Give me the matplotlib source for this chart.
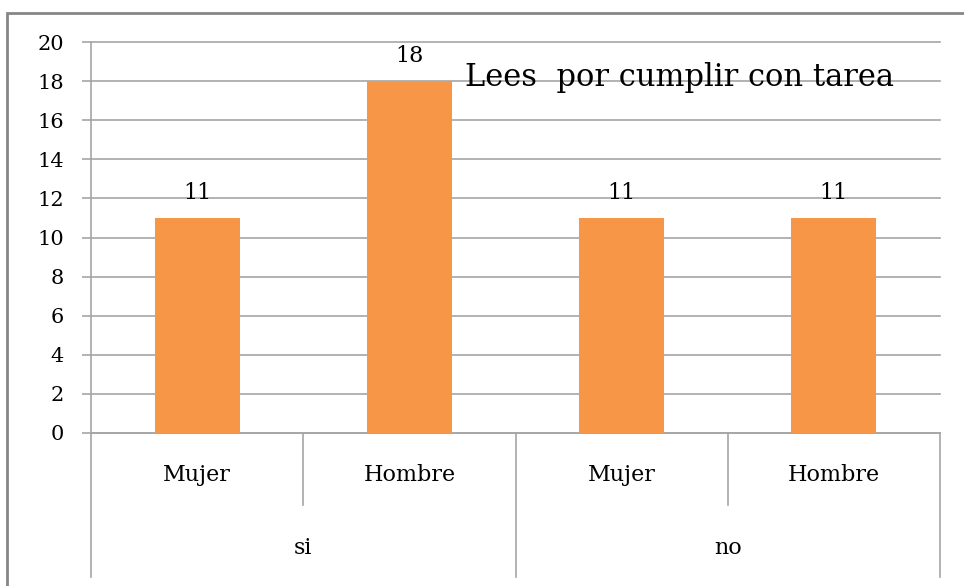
import matplotlib
matplotlib.use("Agg")
import matplotlib.pyplot as plt
import matplotlib.patches as mpatches
from matplotlib.lines import Line2D

# chart data
groups = ["si", "no"]
subcats = ["Mujer", "Hombre", "Mujer", "Hombre"]
values = [11, 18, 11, 11]
title = "Lees  por cumplir con tarea"

bar_color = "#F79646"
grid_color = "#A6A6A6"
W, H = 964, 586

plt.rcParams["font.family"] = ["DejaVu Serif"]

fig = plt.figure(figsize=(W / 100, H / 100), dpi=100)
ax = fig.add_axes([91 / W, 1 - 433 / H, (940 - 91) / W, (433 - 42) / H])

x = list(range(len(values)))
ax.bar(x, values, width=0.4, color=bar_color, zorder=3)
for xi, v in zip(x, values):
    ax.text(xi, v + 0.7, str(v), ha="center", va="bottom", fontsize=16)

ax.set_xlim(-0.5, len(values) - 0.5)
ax.set_ylim(0, 20)
ax.set_yticks(range(0, 21, 2))
ax.yaxis.grid(True, color=grid_color, lw=1.2, zorder=0, clip_on=False)
ax.tick_params(axis="y", length=6.5, color=grid_color, width=1.2,
               labelsize=15, pad=13)
ax.set_xticks([])
for s in ["top", "right"]:
    ax.spines[s].set_visible(False)
ax.spines["left"].set_color(grid_color)
ax.spines["bottom"].set_color(grid_color)
ax.spines["left"].set_linewidth(1.2)
ax.spines["bottom"].set_linewidth(1.2)

ax.text(0.693, 0.91, title, transform=ax.transAxes, fontsize=22,
        ha="center", va="center", zorder=5)

# multi-level category axis drawn below the plot
trans = ax.get_xaxis_transform()
sub_depth = -0.184
grp_depth = -0.368
for xb in [-0.5, 1.5, 3.5]:
    ax.add_line(Line2D([xb, xb], [0, grp_depth], transform=trans,
                       color=grid_color, lw=1.2, clip_on=False))
for xb in [0.5, 2.5]:
    ax.add_line(Line2D([xb, xb], [0, sub_depth], transform=trans,
                       color=grid_color, lw=1.2, clip_on=False))
for xi, lab in zip(x, subcats):
    ax.text(xi, -0.107, lab, transform=trans, ha="center", va="center",
            fontsize=16)
for gi, g in enumerate(groups):
    ax.text(gi * 2 + 0.5, -0.294, g, transform=trans, ha="center",
            va="center", fontsize=16)

# chart frame (only top and left edges visible in the crop)
frame = mpatches.Rectangle((7 / W, -0.1), 1.2, 1 - 13 / H + 0.1,
                           transform=fig.transFigure, fill=False,
                           edgecolor="#868686", lw=2)
fig.patches.append(frame)

fig.savefig("out.png", dpi=100)
